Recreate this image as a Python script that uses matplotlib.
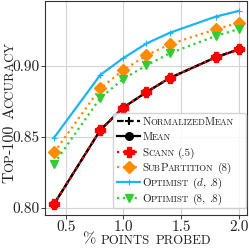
import matplotlib
matplotlib.use("Agg")
import matplotlib.pyplot as plt
from matplotlib.transforms import IdentityTransform
from matplotlib import font_manager, ft2font

plt.rcParams['font.family'] = ['cmr10']
plt.rcParams['mathtext.fontset'] = 'cm'
plt.rcParams['axes.unicode_minus'] = False
plt.rcParams['axes.formatter.use_mathtext'] = True

x = [0.4, 0.8, 1.0, 1.2, 1.4, 1.8, 2.0]
normalized_mean = [0.8026, 0.8548, 0.8707, 0.8816, 0.8915, 0.9062, 0.9118]
mean = [0.8026, 0.8548, 0.8707, 0.8816, 0.8915, 0.9062, 0.9118]
scann = [0.8026, 0.8548, 0.8707, 0.8816, 0.8915, 0.9062, 0.9118]
subpartition = [0.8390, 0.8844, 0.8972, 0.9076, 0.9154, 0.9260, 0.9307]
optimist_d = [0.8495, 0.8938, 0.9057, 0.9160, 0.9235, 0.9350, 0.9390]
optimist_8 = [0.8311, 0.8775, 0.8910, 0.9005, 0.9090, 0.9213, 0.9262]

labels = ['NormalizedMean', 'Mean', 'Scann (.5)', 'SubPartition (8)',
          'Optimist ($d$, .8)', 'Optimist (8, .8)']
xlabel = '% points probed'
ylabel = 'Top-100 Accuracy'
xticks = [0.5, 1.0, 1.5, 2.0]
yticks = [0.80, 0.85, 0.90]

DPI = 100
fig = plt.figure(figsize=(2.49, 2.49), dpi=DPI)
ax = fig.add_axes([45.3 / 249, 34 / 249, 201.7 / 249, 213.5 / 249])

h = []
h += ax.plot(x, normalized_mean, color='black', linestyle='--', marker='+', markersize=6,
             markeredgewidth=1.5, linewidth=1.6, dashes=(3, 1.5))
h += ax.plot(x, mean, color='black', linestyle='-', marker='o', markersize=5.5, linewidth=1.6)
h += ax.plot(x, scann, color='red', linestyle=':', marker='P', markersize=6.5, linewidth=1.6)
h += ax.plot(x, subpartition, color='#ff8c00', linestyle=':', marker='D', markersize=6, linewidth=1.6)
h += ax.plot(x, optimist_d, color='#1cb4f5', linestyle='-', marker='+', markersize=4,
             markeredgewidth=0.8, linewidth=1.6)
h += ax.plot(x, optimist_8, color='#33cc33', linestyle=':', marker='v', markersize=6, linewidth=1.6)

ax.set_xlim(0.323, 2.072)
ax.set_ylim(0.7947, 0.9457)
ax.set_xticks(xticks)
ax.set_yticks(yticks)
ax.set_xticklabels(['%.1f' % v for v in xticks])
ax.set_yticklabels(['%.2f' % v for v in yticks])
ax.tick_params(labelsize=11, length=3, width=0.6, pad=1, colors='#222222')
ax.grid(True, color='#d4d4d4', linewidth=0.8)
ax.set_axisbelow(True)
for s in ax.spines.values():
    s.set_linewidth(0.8)
    s.set_color('#333333')

leg = ax.legend(h, [''] * len(h), loc='lower left',
                bbox_to_anchor=((113 - 45.3) / 201.7, (215 - 208) / 213.5, (246 - 113) / 201.7, 0.1),
                mode='expand', borderaxespad=0, fontsize=8, numpoints=1,
                handlelength=2.05, handletextpad=0.1, labelspacing=0.5, borderpad=0.4,
                framealpha=0.85, edgecolor='#cccccc', fancybox=True)

FONTS = {
    'rm': ft2font.FT2Font(font_manager.findfont('cmr10')),
    'it': ft2font.FT2Font(font_manager.findfont('cmmi10')),
}
FAMILY = {'rm': 'cmr10', 'it': 'cmmi10'}


def advance(txt, fs, face='rm'):
    font = FONTS[face]
    font.set_size(fs, DPI)
    total = 0.0
    for c in txt:
        g = font.load_char(ord(c))
        total += g.linearHoriAdvance / 65536.0
    return total


def parse_runs(s):
    runs = []
    i = 0
    while i < len(s):
        c = s[i]
        if c == '$':
            j = s.index('$', i + 1)
            runs.append([s[i + 1:j], 'it'])
            i = j + 1
            continue
        if c == ' ':
            runs.append([' ', 'space'])
            i += 1
            continue
        kind = 'small' if c.islower() else 'full'
        ch = c.upper() if kind == 'small' else c
        if runs and runs[-1][1] == kind:
            runs[-1][0] += ch
        else:
            runs.append([ch, kind])
        i += 1
    return runs


def smallcaps(s, x0, y0, size, ratio=0.8, rotation=0, ha='center', color='black', kern=0.035):
    runs = parse_runs(s)
    px = size * DPI / 72.0
    widths = []
    for k, (txt, kind) in enumerate(runs):
        if kind == 'space':
            widths.append(0.333 * px)
            continue
        face = 'it' if kind == 'it' else 'rm'
        fs = size * (ratio if kind == 'small' else 1.0)
        w = advance(txt, fs, face)
        if k + 1 < len(runs) and runs[k + 1][1] not in ('space',):
            w -= kern * px
        widths.append(w)
    total = sum(widths)
    if ha == 'center':
        pos = (x0 if rotation == 0 else y0) - total / 2
    else:
        pos = x0 if rotation == 0 else y0
    for (txt, kind), w in zip(runs, widths):
        if kind != 'space':
            face = 'it' if kind == 'it' else 'rm'
            fs = size * (ratio if kind == 'small' else 1.0)
            if rotation == 0:
                fig.text(pos, y0, txt, transform=IdentityTransform(), fontsize=fs,
                         family=FAMILY[face], ha='left', va='baseline', color=color, zorder=10)
            else:
                fig.text(x0, pos, txt, transform=IdentityTransform(), fontsize=fs,
                         family=FAMILY[face], rotation=90, rotation_mode='anchor',
                         ha='left', va='baseline', color=color, zorder=10)
        pos += w


fig.canvas.draw()

# axis labels (small caps)
smallcaps(ylabel, 13.5, 249 - 112.5, 11.5, rotation=90, color='#222222')
smallcaps(xlabel, 146.5, 5.5, 11.5, color='#222222')

# legend labels (small caps)
for t, lab in zip(leg.get_texts(), labels):
    px_, py_ = t.get_transform().transform(t.get_position())
    smallcaps(lab, px_ + 1, py_, 8, ha='left', color='#222222')

fig.savefig('out.png', dpi=DPI)
